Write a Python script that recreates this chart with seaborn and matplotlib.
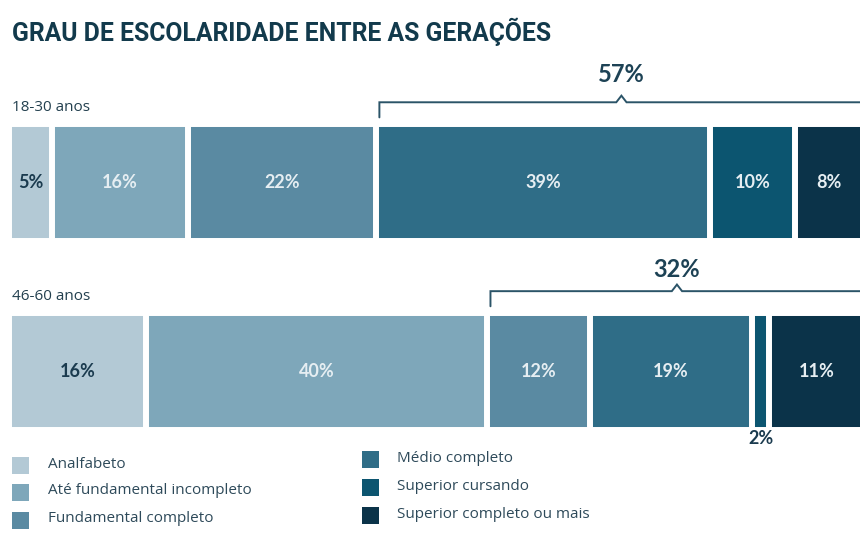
import seaborn as sns
import matplotlib.pyplot as plt
import pandas as pd
from matplotlib.patches import Rectangle

# dados
grupos = ['18-30 anos', '46-60 anos']
niveis = ['Analfabeto', 'Até fundamental incompleto', 'Fundamental completo',
          'Médio completo', 'Superior cursando', 'Superior completo ou mais']
valores_18_30 = [5, 16, 22, 39, 10, 8]
valores_46_60 = [16, 40, 12, 19, 2, 11]
cores = ['#b3c9d5', '#7ea7ba', '#5a8aa2', '#2f6d87', '#0c5570', '#0b3349']
chave_total = [57, 32]          # valor da chave (texto)
chave_inicio = [3, 2]           # índice do nível onde a chave começa

sns.set_theme(style='white')
plt.rcParams['font.family'] = ['Open Sans', 'DejaVu Sans']
fonte_num = ['Lato', 'DejaVu Sans']

linhas = []
for g, vals in zip(grupos, [valores_18_30, valores_46_60]):
    acum = 0
    for n, v in zip(niveis, vals):
        linhas.append({'grupo': g, 'nivel': n, 'valor': v, 'inicio': acum, 'fim': acum + v})
        acum += v
df = pd.DataFrame(linhas)

fig = plt.figure(figsize=(8.6, 5.36), dpi=100)
ax = fig.add_axes([9 / 860, (536 - 430) / 536, 851 / 860, 306 / 536])

altura = 0.62
# barras empilhadas: desenha do maior acumulado para o menor
for nivel, cor in reversed(list(zip(niveis, cores))):
    sub = df[df['nivel'] == nivel]
    sns.barplot(data=sub, x='fim', y='grupo', order=grupos, orient='h',
                color=cor, saturation=1, width=altura, errorbar=None,
                edgecolor='white', linewidth=4.3, ax=ax)

ax.set_xlim(0, 99.6)
ax.set_ylim(1 + altura / 2, -altura / 2)
ax.axis('off')

escuro = '#1b3b4f'
claro = '#e6eef2'
for _, r in df.iterrows():
    yi = grupos.index(r['grupo'])
    xc = (r['inicio'] + r['fim']) / 2
    txt = f"{r['valor']}%"
    if r['valor'] < 4:
        ax.text(xc, yi + altura / 2 + 0.045, txt, ha='center', va='center',
                fontsize=13, fontweight='bold', color=escuro, clip_on=False,
                family=fonte_num)
    else:
        c = escuro if r['nivel'] == 'Analfabeto' else claro
        ax.text(xc, yi, txt, ha='center', va='center', fontsize=13,
                fontweight='bold', color=c, family=fonte_num)

# rótulos dos grupos e chaves
cor_linha = '#2b5468'
for yi, g in enumerate(grupos):
    topo = yi - altura / 2
    ax.text(0.35, topo - 0.085, g, ha='left', va='center', fontsize=11,
            color='#23404f', clip_on=False)
    sub = df[df['grupo'] == g].reset_index(drop=True)
    x0 = sub.loc[chave_inicio[yi], 'inicio'] + 0.35
    xm = (x0 + 100) / 2
    yb = topo - 0.115
    xs = [x0, x0, xm - 0.6, xm, xm + 0.6, 101]
    ys = [topo - 0.035, yb, yb, yb - 0.035, yb, yb]
    ax.plot(xs, ys, color=cor_linha, lw=1.4, clip_on=False,
            solid_joinstyle='miter')
    ax.text(xm, yb - (0.145 if yi == 0 else 0.115), f'{chave_total[yi]}%',
            ha='center', va='center', fontsize=17, fontweight='bold',
            color='#1d4255', clip_on=False, family=fonte_num)

# título
fig.text(12 / 860, 1 - 32 / 536, 'GRAU DE ESCOLARIDADE ENTRE AS GERAÇÕES',
         ha='left', va='center', fontsize=17.8, fontweight='bold',
         color='#123a4c', family=['Roboto', 'DejaVu Sans'])

# legenda
lg = fig.add_axes([0, 0, 1, 1], zorder=-1)
lg.set_xlim(0, 860)
lg.set_ylim(536, 0)
lg.axis('off')
pos_leg = [(12, 465), (12, 492), (12, 520), (362, 459), (362, 487), (362, 515)]
for (x, y), n, c in zip(pos_leg, niveis, cores):
    lg.add_patch(Rectangle((x, y - 8.5), 17, 17, color=c, lw=0))
    lg.text(x + 36 if x < 100 else x + 35, y - 1, n, ha='left', va='center',
            fontsize=11, color='#2e4a5a')

fig.savefig('out.png', dpi=100)
